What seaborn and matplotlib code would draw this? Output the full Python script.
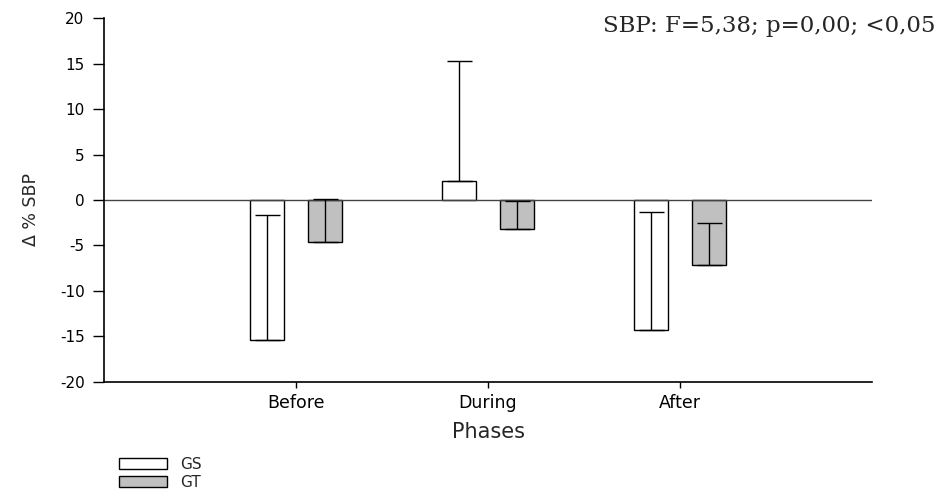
import numpy as np
import pandas as pd
import matplotlib
matplotlib.use("Agg")
import matplotlib.pyplot as plt
import matplotlib.patches as mpatches
import seaborn as sns

# Data
phases = ["Before", "During", "After"]
groups = ["GS", "GT"]
gs_mean = [-15.4, 2.1, -14.3]
gt_mean = [-4.6, -3.2, -7.1]
gs_sd = [13.8, 13.2, 13.0]
gt_sd = [4.7, 3.1, 4.6]

colors = {"GS": "white", "GT": "#c0c0c0"}

df = pd.DataFrame({
    "phase": phases * 2,
    "group": ["GS"] * 3 + ["GT"] * 3,
    "value": gs_mean + gt_mean,
    "sd": gs_sd + gt_sd,
})

sns.set_style("ticks")
plt.rcParams["font.family"] = ["DejaVu Sans"]
plt.rcParams["axes.unicode_minus"] = False

fig = plt.figure(figsize=(9.4, 4.92), dpi=100)
ax = fig.add_axes([0.1106, 0.2236, 0.8171, 0.7398])

sns.barplot(data=df, x="phase", y="value", hue="group", order=phases,
            hue_order=groups, palette=colors, width=0.6, gap=0.4,
            edgecolor="black", linewidth=1, errorbar=None, legend=False, ax=ax)

# one-sided error bars (towards positive)
for bars, g in zip(ax.containers, groups):
    sub = df[df.group == g].set_index("phase").loc[phases]
    xs = [b.get_x() + b.get_width() / 2 for b in bars]
    ax.errorbar(xs, sub["value"], yerr=[np.zeros(len(xs)), sub["sd"]],
                fmt="none", ecolor="black", elinewidth=1, capsize=9,
                capthick=1, zorder=3)

ax.axhline(0, color="#444444", lw=1, zorder=1)
ax.set_xlim(-1, 3)
ax.set_ylim(-20, 20)
ax.set_yticks(np.arange(-20, 21, 5))
sns.despine(ax=ax)
for s in ["left", "bottom"]:
    ax.spines[s].set_linewidth(1.2)
    ax.spines[s].set_color("black")
ax.tick_params(axis="y", length=8, width=1, labelsize=11, colors="black", pad=6)
ax.tick_params(axis="x", length=4, width=1, labelsize=12.5, colors="black", pad=5)
ax.set_xlabel("Phases", fontsize=15, labelpad=7)
ax.set_ylabel("Δ % SBP", fontsize=12.5)
ax.yaxis.set_label_coords(-0.083, 0.475)

fig.text(0.995, 0.935, "SBP: F=5,38; p=0,00; <0,05", ha="right", va="baseline",
         fontsize=16.5, family=["DejaVu Serif"])

handles = [mpatches.Patch(facecolor=colors[g], edgecolor="black", lw=1, label=g)
           for g in groups]
fig.legend(handles=handles, loc="upper left", bbox_to_anchor=(0.127, 0.072),
           bbox_transform=fig.transFigure, frameon=False, fontsize=11,
           handlelength=3.1, handleheight=0.75, labelspacing=0.2,
           handletextpad=0.9, borderaxespad=0, borderpad=0)

fig.savefig("out.png", dpi=100)
